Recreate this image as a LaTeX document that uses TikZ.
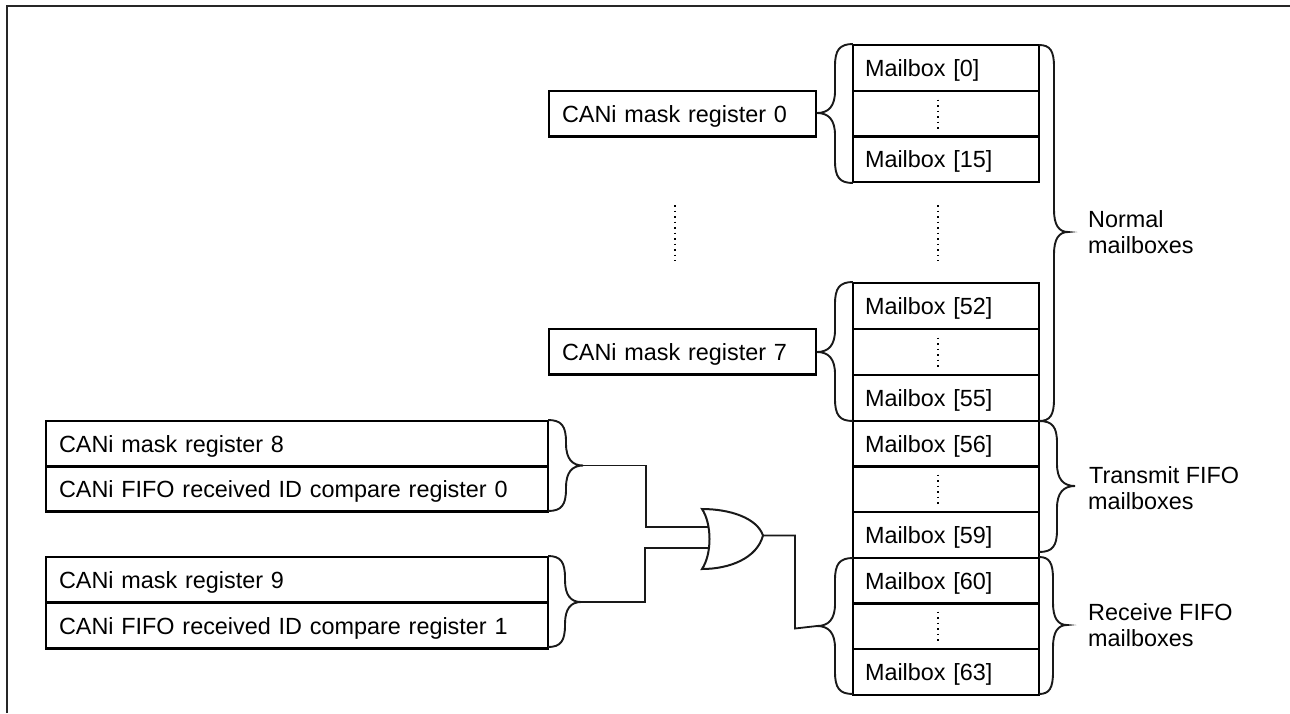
\documentclass[tikz,border=0pt]{standalone}
\usepackage{fontspec}
\usetikzlibrary{calc}
\setmainfont{Liberation Sans}
\tikzset{
  wire/.style={draw=black!90,line width=1.8pt,line join=miter},
  bracepath/.style={draw=black!90,line width=1.9pt},
  dots/.style={draw=black,line width=2pt,dash pattern=on 1.8pt off 3.7pt},
  cell/.style={draw=black,line width=2.3pt,rectangle,inner ysep=0pt,outer sep=0pt,
     text height=17pt,text depth=0pt,align=left,font=\fontsize{23.4}{28}\selectfont},
  mailcell/.style={cell,minimum width=186pt,minimum height=46pt,text width=162pt,inner xsep=12pt},
  maskcell/.style={cell,minimum width=267pt,minimum height=45.5pt,text width=241pt,inner xsep=13pt},
  regcell/.style={cell,minimum width=502pt,minimum height=45.5pt,text width=476pt,inner xsep=13pt},
  lbl/.style={anchor=base west,inner sep=0pt,font=\fontsize{23.4}{28}\selectfont},
}
% edge x, spine x, tip x, top y, tip y, bottom y; #7 = name of the tip coordinate
\newcommand{\mybrace}[7]{%
  \draw[bracepath] (#1,#4) .. controls ({#1+0.75*(#2-#1)},#4) and (#2,{#4+6}) .. (#2,{#4+22})
    -- (#2,{#5-22}) .. controls (#2,{#5-7}) and ({#2+0.35*(#3-#2)},#5) .. (#3,#5)
    .. controls ({#2+0.35*(#3-#2)},#5) and (#2,{#5+7}) .. (#2,{#5+22})
    -- (#2,{#6-22}) .. controls (#2,{#6-6}) and ({#1+0.75*(#2-#1)},#6) .. (#1,#6);
  \coordinate (#7) at (#3,#5);
}
\begin{document}
\begin{tikzpicture}[x=1pt,y=-1pt]
\useasboundingbox (0,0) rectangle (1290,713);
% frame
\coordinate (fa) at (6.5,713);
\coordinate (fb) at (6.5,5.5);
\coordinate (fc) at (1290,5.5);
\draw[draw=black!85,line width=2pt] (fa) -- (fb) -- (fc);

% mailbox column
\node[mailcell,anchor=north west] (m0)  at (853,45)  {Mailbox [0]};
\node[mailcell,anchor=north west] (m1)  at (853,91)  {};
\node[mailcell,anchor=north west] (m15) at (853,136) {Mailbox [15]};
\node[mailcell,anchor=north west] (m52) at (853,283) {Mailbox [52]};
\node[mailcell,anchor=north west] (m53) at (853,329) {};
\node[mailcell,anchor=north west] (m55) at (853,375) {Mailbox [55]};
\node[mailcell,anchor=north west] (m56) at (853,421) {Mailbox [56]};
\node[mailcell,anchor=north west] (m57) at (853,466) {};
\node[mailcell,anchor=north west] (m59) at (853,512) {Mailbox [59]};
\node[mailcell,anchor=north west] (m60) at (853,558) {Mailbox [60]};
\node[mailcell,anchor=north west] (m61) at (853,603) {};
\node[mailcell,anchor=north west] (m63) at (853,649) {Mailbox [63]};

% mask registers
\node[maskcell,anchor=north west] (r0) at (549,91)  {CANi mask register 0};
\node[maskcell,anchor=north west] (r7) at (549,329) {CANi mask register 7};
\node[regcell,anchor=north west] (r8) at (46,421) {CANi mask register 8};
\node[regcell,anchor=north west] (c0) at (46,466) {CANi FIFO received ID compare register 0};
\node[regcell,anchor=north west] (r9) at (46,557) {CANi mask register 9};
\node[regcell,anchor=north west] (c1) at (46,603) {CANi FIFO received ID compare register 1};

% dotted lines
\foreach \n in {m1,m53,m57,m61}
  \draw[dots] ($(\n.center)+(-8,-14.5)$) -- ($(\n.center)+(-8,15)$);
\coordinate (da) at (675,205); \coordinate (db) at (675,261);
\coordinate (dc) at (938,205); \coordinate (dd) at (938,261);
\draw[dots] (da) -- (db);
\draw[dots] (dc) -- (dd);

% braces
\mybrace{853}{835}{817}{44}{113}{183}{b0}
\mybrace{853}{835}{817}{282}{352}{421}{b7}
\mybrace{853}{835}{817}{558}{626}{694}{brx}
\mybrace{1039}{1054}{1068}{45}{232}{421}{bn}
\mybrace{1039}{1057}{1075}{421}{486}{552}{bt}
\mybrace{1039}{1053}{1067}{557}{625}{694}{br}
\mybrace{548}{566}{583}{420}{465.5}{511}{bf0}
\mybrace{548}{565}{581}{556}{602}{647}{bf1}

% OR gate
\coordinate (gt) at (702,509);
\coordinate (gb) at (702,569);
\coordinate (go) at (763,535.5);
\coordinate (gi0) at (708,527);
\coordinate (gi1) at (709,548);
\draw[wire,line width=2pt] (gt) .. controls (712,524) and (712,554) .. (gb)
   .. controls (730,569) and (757,558) .. (go)
   .. controls (757,518) and (730,509) .. (gt) -- cycle;

% wires
\coordinate (j0) at (646,465.5); \coordinate (k0) at (646,527);
\coordinate (j1) at (645,602);   \coordinate (k1) at (645,548);
\coordinate (j2) at (795,535.5); \coordinate (k2) at (795,628.5);
\draw[wire] (bf0) -- (j0) -- (k0) -- (gi0);
\draw[wire] (bf1) -- (j1) -- (k1) -- (gi1);
\draw[wire] (go) -- (j2) -- (k2) -- (brx);

% labels
\node[lbl] (n1) at (1088,227) {Normal};
\node[lbl] (n2) at (1088,253.5) {mailboxes};
\node[lbl] (t1) at (1089,483) {Transmit FIFO};
\node[lbl] (t2) at (1088,509.5) {mailboxes};
\node[lbl] (q1) at (1088,620) {Receive FIFO};
\node[lbl] (q2) at (1088,646.5) {mailboxes};
\end{tikzpicture}
\end{document}
